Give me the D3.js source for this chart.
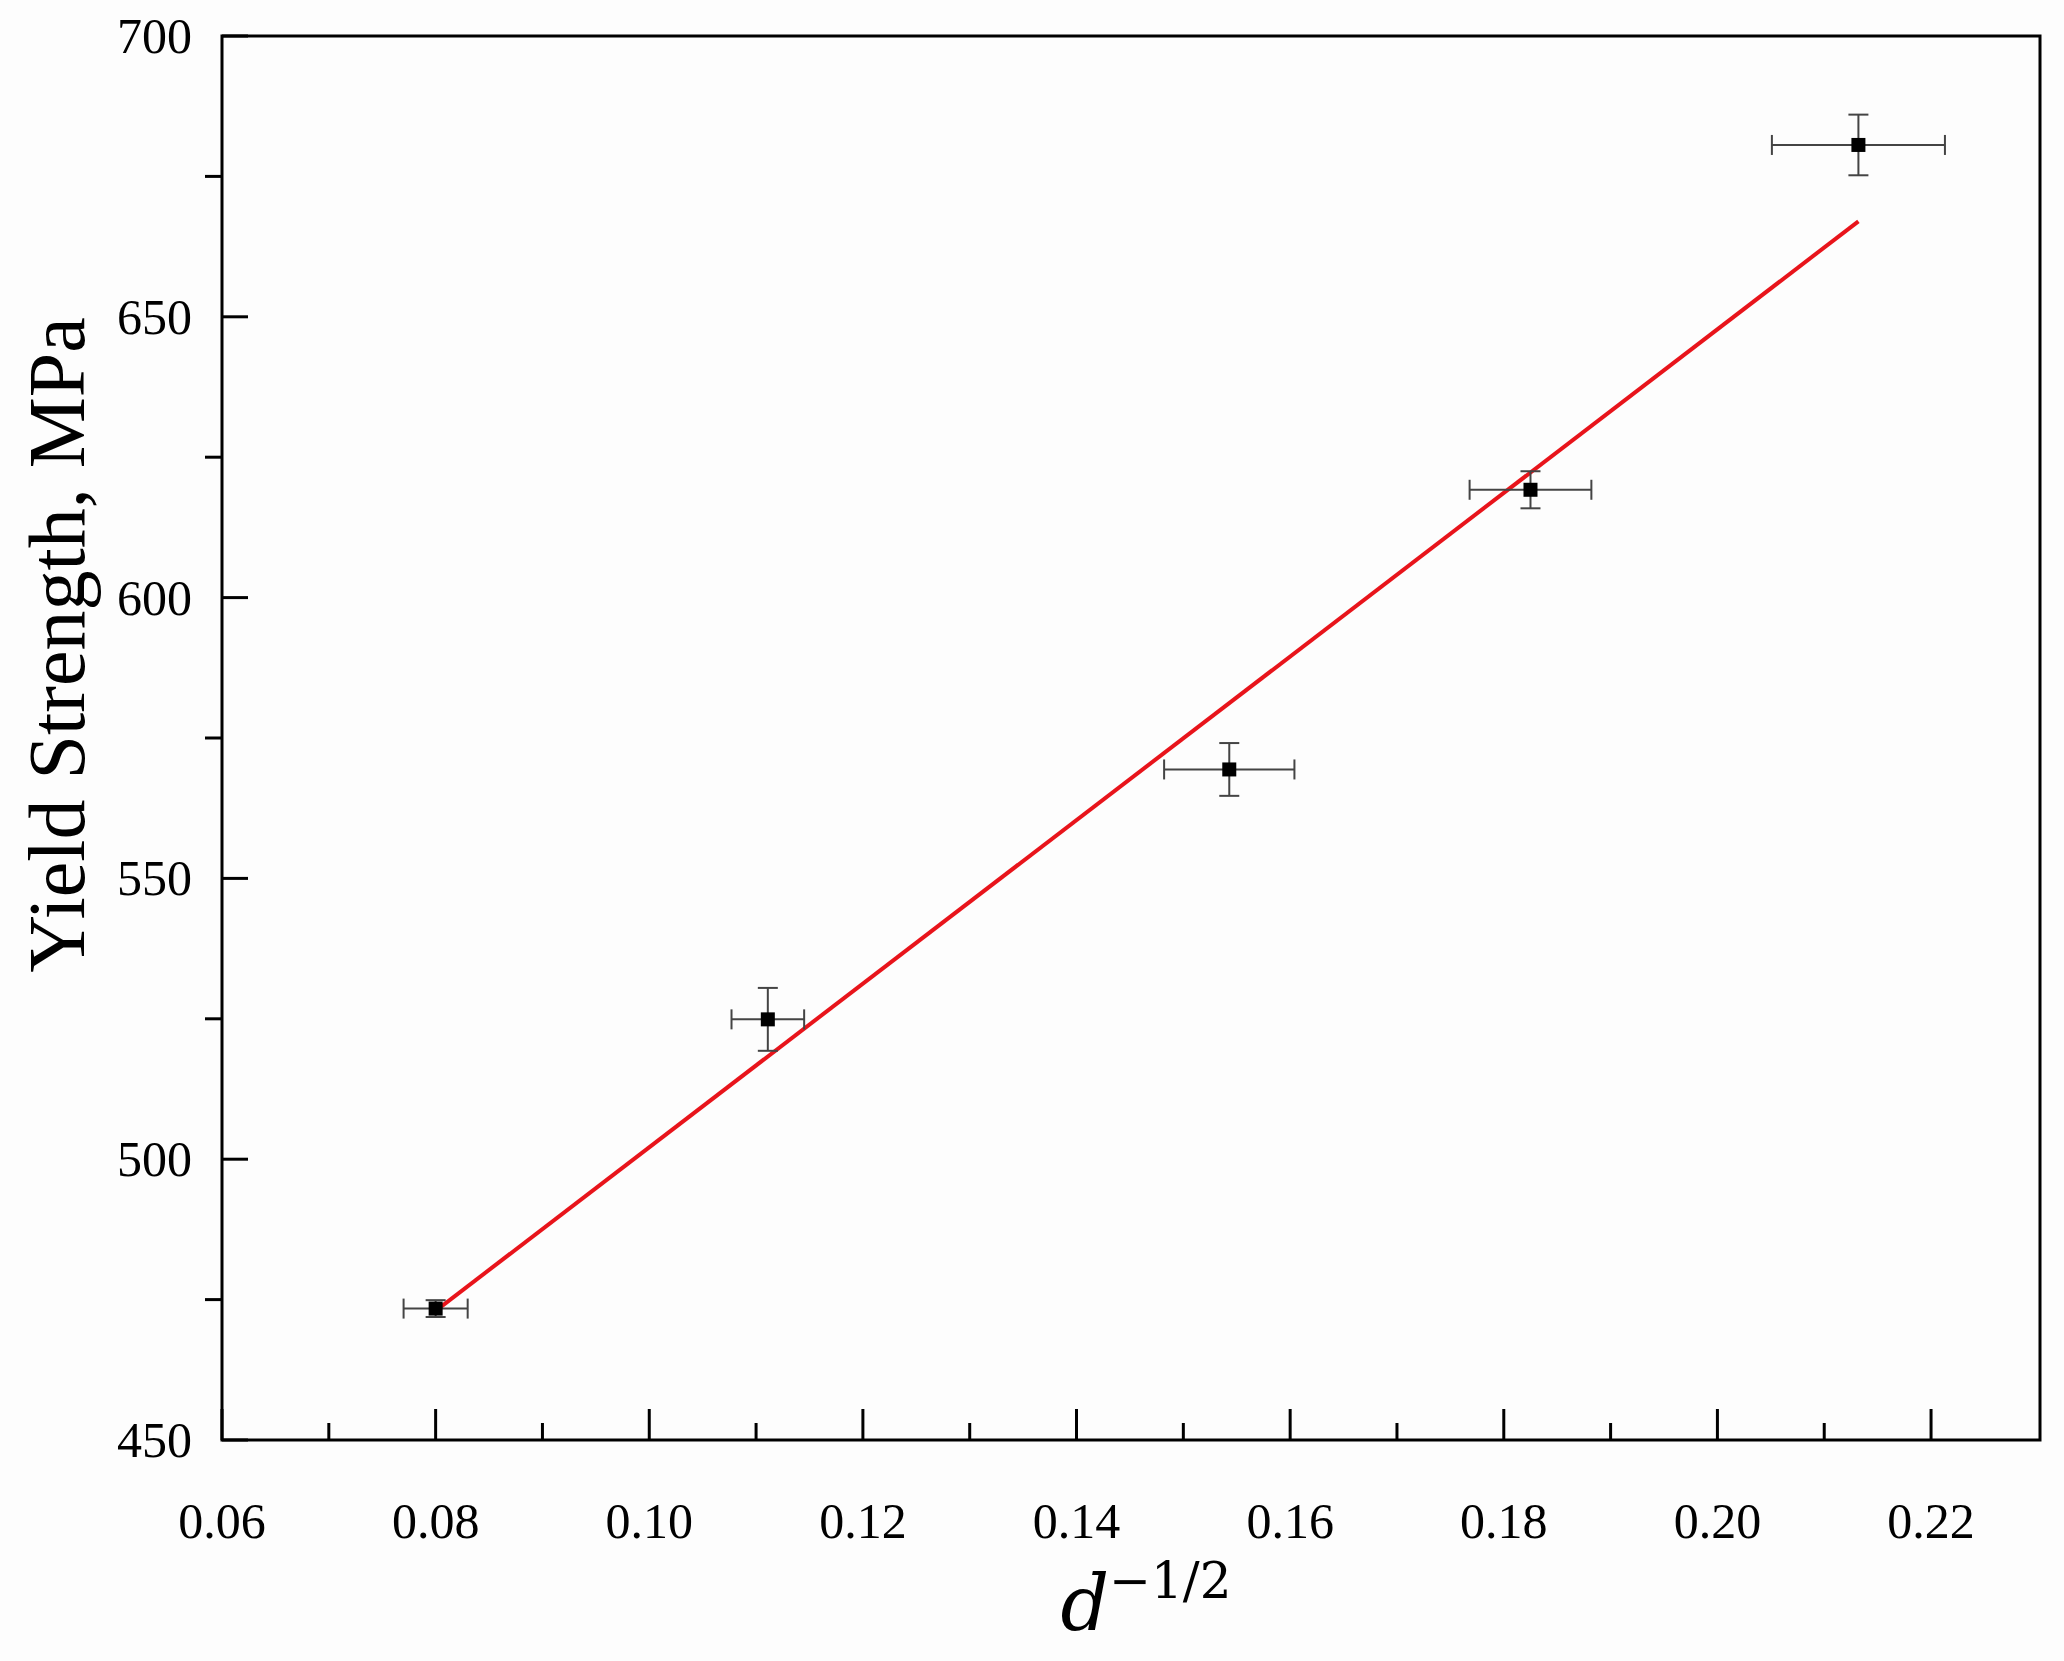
<!DOCTYPE html>
<html><head><meta charset="utf-8">
<script src="https://cdn.jsdelivr.net/npm/d3@7"></script>
<style>body{margin:0;background:#fdfdfd;} text{font-family:"Liberation Serif","Times New Roman",serif;}</style>
</head><body><div id="chart"></div>
<script>
var xValues = [0.0800, 0.1111, 0.1543, 0.1825, 0.2132];
var yValues = [473.4, 524.9, 569.4, 619.2, 680.6];
var xErrors = [0.0030, 0.0034, 0.0061, 0.0057, 0.0081];
var yErrors = [1.5, 5.6, 4.7, 3.3, 5.4];
var fitLine = [[0.0800, 473.0], [0.2132, 667.0]];
var xTicks = [0.06, 0.08, 0.10, 0.12, 0.14, 0.16, 0.18, 0.20, 0.22];
var yTicks = [450, 500, 550, 600, 650, 700];

var W = 2064, H = 1661;
var svg = d3.select("#chart").append("svg").attr("width", W).attr("height", H);
var x = d3.scaleLinear().domain([0.06, 0.2302]).range([222, 2040]);
var y = d3.scaleLinear().domain([450, 700]).range([1440, 36]);

// frame
svg.append("rect").attr("x", 222).attr("y", 36).attr("width", 2040 - 222).attr("height", 1440 - 36)
    .attr("fill", "none").attr("stroke", "#000").attr("stroke-width", 3);

// x ticks (inward)
var xMinor = d3.range(0.07, 0.23, 0.02);
svg.selectAll(".xmaj").data(xTicks).enter().append("line")
    .attr("x1", d => x(d)).attr("x2", d => x(d)).attr("y1", 1440).attr("y2", 1409)
    .attr("stroke", "#000").attr("stroke-width", 3);
svg.selectAll(".xmin").data(xMinor).enter().append("line")
    .attr("x1", d => x(d)).attr("x2", d => x(d)).attr("y1", 1440).attr("y2", 1423)
    .attr("stroke", "#000").attr("stroke-width", 3);
svg.selectAll(".xlab").data(xTicks).enter().append("text")
    .attr("x", d => x(d)).attr("y", 1538).attr("text-anchor", "middle")
    .attr("font-size", 50).text(d => d.toFixed(2));

// y ticks: major inward, minor outward
var yMinor = d3.range(475, 700, 50);
svg.selectAll(".ymaj").data(yTicks).enter().append("line")
    .attr("x1", 222).attr("x2", 248).attr("y1", d => y(d)).attr("y2", d => y(d))
    .attr("stroke", "#000").attr("stroke-width", 3);
svg.selectAll(".ymin").data(yMinor).enter().append("line")
    .attr("x1", 222).attr("x2", 205).attr("y1", d => y(d)).attr("y2", d => y(d))
    .attr("stroke", "#000").attr("stroke-width", 3);
svg.selectAll(".ylab").data(yTicks).enter().append("text")
    .attr("x", 192).attr("y", d => y(d) + 17).attr("text-anchor", "end")
    .attr("font-size", 50).text(d => d);

// axis titles
svg.append("text").attr("transform", "translate(84,645) rotate(-90)").attr("text-anchor", "middle")
    .attr("font-size", 80).text("Yield Strength, MPa");
var xt = svg.append("text").attr("x", 1146).attr("y", 1630).attr("text-anchor", "middle")
    .attr("font-size", 76);
xt.append("tspan").attr("font-style", "italic").attr("font-family", "DejaVu Serif").text("d");
xt.append("tspan").attr("font-size", 50).attr("dy", -32).attr("font-family", "DejaVu Serif").text("\u22121/2");

// fit line
svg.append("path").datum(fitLine)
    .attr("d", d3.line().x(d => x(d[0])).y(d => y(d[1])))
    .attr("stroke", "#e8141b").attr("stroke-width", 4).attr("fill", "none");

// error bars
var pts = xValues.map((v, i) => ({x: v, y: yValues[i], ex: xErrors[i], ey: yErrors[i]}));
var g = svg.selectAll(".pt").data(pts).enter().append("g")
    .attr("stroke", "#444").attr("stroke-width", 2);
g.append("line").attr("x1", d => x(d.x - d.ex)).attr("x2", d => x(d.x + d.ex))
    .attr("y1", d => y(d.y)).attr("y2", d => y(d.y));
g.append("line").attr("x1", d => x(d.x)).attr("x2", d => x(d.x))
    .attr("y1", d => y(d.y - d.ey)).attr("y2", d => y(d.y + d.ey));
[-1, 1].forEach(function(s) {
    g.append("line").attr("x1", d => x(d.x + s * d.ex)).attr("x2", d => x(d.x + s * d.ex))
        .attr("y1", d => y(d.y) - 10).attr("y2", d => y(d.y) + 10);
    g.append("line").attr("x1", d => x(d.x) - 10).attr("x2", d => x(d.x) + 10)
        .attr("y1", d => y(d.y + s * d.ey)).attr("y2", d => y(d.y + s * d.ey));
});
svg.selectAll(".mk").data(pts).enter().append("rect")
    .attr("x", d => x(d.x) - 7).attr("y", d => y(d.y) - 7).attr("width", 14).attr("height", 14)
    .attr("fill", "#000");
</script></body></html>
